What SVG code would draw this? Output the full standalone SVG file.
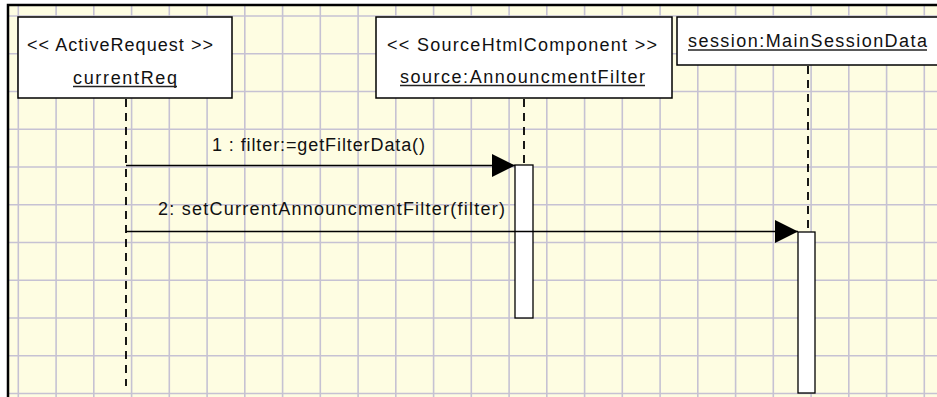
<svg xmlns="http://www.w3.org/2000/svg" width="937" height="397" viewBox="0 0 937 397">
  <style>
    .grid { stroke: #c6c2d3; stroke-width: 1.6; fill: none; }
    .frame { stroke: #000; stroke-width: 2.5; fill: none; }
    .obj { fill: #fff; stroke: #000; stroke-width: 1.5; }
    .act { fill: #fff; stroke: #000; stroke-width: 1.3; }
    .life { stroke: #000; stroke-width: 1.8; stroke-dasharray: 8 6; fill: none; }
    .msg { stroke: #000; stroke-width: 1.5; fill: none; marker-end: url(#filled); }
    .uline { stroke: #222; stroke-width: 1.3; }
    text { font-family: "Liberation Sans", Arial, sans-serif; font-size: 18px; fill: #111; }
  </style>
  <defs>
    <marker id="filled" markerUnits="userSpaceOnUse" markerWidth="24" markerHeight="24" viewBox="0 0 24 24" refX="23" refY="12" orient="auto">
      <path d="M0 0.5 L23 12 L0 23.5 Z" fill="#000"/>
    </marker>
  </defs>

  <!-- paper background and grid -->
  <rect x="0" y="0" width="937" height="397" fill="#fff"/>
  <rect x="8" y="5" width="929" height="392" fill="#fefde2"/>
  <path class="grid" d="M18.3 6V397M56.1 6V397M93.8 6V397M131.6 6V397M169.3 6V397M207.1 6V397M244.8 6V397M282.6 6V397M320.3 6V397M358.1 6V397M395.8 6V397M433.6 6V397M471.3 6V397M509.1 6V397M546.8 6V397M584.6 6V397M622.3 6V397M660.1 6V397M697.8 6V397M735.6 6V397M773.3 6V397M811.1 6V397M848.8 6V397M886.6 6V397M924.3 6V397
    M9 16H937M9 53.8H937M9 91.5H937M9 129.3H937M9 167H937M9 204.8H937M9 242.5H937M9 280.3H937M9 318H937M9 355.8H937M9 393.5H937"/>
  <path class="frame" d="M8 397V5H937"/>

  <!-- object: currentReq -->
  <g id="currentReq">
    <line class="life" x1="126" y1="99" x2="126" y2="386"/>
    <rect class="obj" x="18" y="17" width="214" height="81"/>
    <text x="27" y="51" textLength="186" lengthAdjust="spacing">&lt;&lt; ActiveRequest &gt;&gt;</text>
    <text x="73" y="84" textLength="104" lengthAdjust="spacing">currentReq</text>
    <line class="uline" x1="73" y1="86.5" x2="177" y2="86.5"/>
  </g>

  <!-- object: source -->
  <g id="source">
    <line class="life" x1="524" y1="99" x2="524" y2="165"/>
    <rect class="obj" x="376" y="17" width="296" height="81"/>
    <text x="387" y="51" textLength="270" lengthAdjust="spacing">&lt;&lt; SourceHtmlComponent &gt;&gt;</text>
    <text x="400" y="83" textLength="245" lengthAdjust="spacing">source:AnnouncmentFilter</text>
    <line class="uline" x1="400" y1="85.5" x2="645" y2="85.5"/>
    <rect class="act" x="515" y="165" width="18" height="153"/>
  </g>

  <!-- object: session -->
  <g id="session">
    <line class="life" x1="808" y1="66" x2="808" y2="232"/>
    <rect class="obj" x="677" y="17" width="262" height="48"/>
    <text x="688" y="47" textLength="239" lengthAdjust="spacing">session:MainSessionData</text>
    <line class="uline" x1="688" y1="50" x2="927" y2="50"/>
    <rect class="act" x="798" y="232" width="17" height="161"/>
  </g>

  <!-- messages -->
  <g id="connectors">
    <line class="msg" x1="126" y1="165.5" x2="515" y2="165.5"/>
    <text x="212" y="151" textLength="213" lengthAdjust="spacing">1 : filter:=getFilterData()</text>
    <line class="msg" x1="126" y1="231.5" x2="798" y2="231.5"/>
    <text x="158" y="215" textLength="347" lengthAdjust="spacing">2: setCurrentAnnouncmentFilter(filter)</text>
  </g>
</svg>
